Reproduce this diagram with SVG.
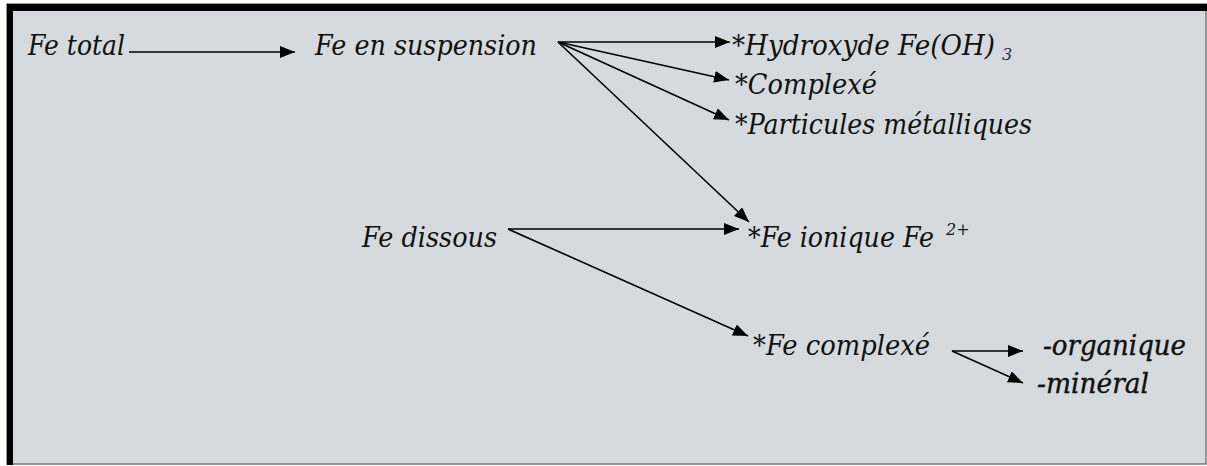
<svg xmlns="http://www.w3.org/2000/svg" width="1207" height="466" viewBox="0 0 1207 466">
<defs>
<style>
text{font-family:'DejaVu Serif',serif;font-style:italic;font-size:27px;fill:#111;}
.sub{font-size:16px;}
.b{stroke:#111;stroke-width:0.4;}
.c line{stroke:#000;stroke-width:1.6;marker-end:url(#ah);}
</style>
<marker id="ah" markerUnits="userSpaceOnUse" markerWidth="16" markerHeight="12" refX="15" refY="6" orient="auto">
<path d="M0,0 L15,6 L0,12 z" fill="#000"/>
</marker>
</defs>
<rect x="0" y="0" width="1207" height="466" fill="#fff"/>
<rect x="7" y="4" width="1199" height="460" fill="#d6dade" stroke="#777" stroke-width="1.5"/>
<rect x="7" y="4" width="1200" height="7" fill="#000"/>
<rect x="7" y="4" width="6" height="461" fill="#000"/>
<g class="c" id="connectors">
<line x1="129" y1="52" x2="295" y2="52"/>
<line x1="558" y1="42" x2="730" y2="42"/>
<line x1="558" y1="42" x2="729" y2="80"/>
<line x1="558" y1="42" x2="729" y2="120"/>
<line x1="558" y1="42" x2="749" y2="222"/>
<line x1="508" y1="229" x2="739" y2="229"/>
<line x1="508" y1="229" x2="748" y2="336"/>
<line x1="952" y1="351" x2="1023" y2="351"/>
<line x1="952" y1="351" x2="1023" y2="383"/>
</g>
<g id="fe-total"><text x="28" y="55" textLength="97" lengthAdjust="spacingAndGlyphs">Fe total</text></g>
<g id="fe-suspension"><text x="315" y="55" textLength="222" lengthAdjust="spacingAndGlyphs">Fe en suspension</text></g>
<g id="hydroxyde"><text x="732" y="55" textLength="263" lengthAdjust="spacingAndGlyphs">*Hydroxyde Fe(OH)</text><text class="sub" x="1002" y="60" style="fill:#1a2a5c">3</text></g>
<g id="complexe"><text x="735" y="94" textLength="142" lengthAdjust="spacingAndGlyphs">*Complexé</text></g>
<g id="particules"><text x="735" y="134" textLength="297" lengthAdjust="spacingAndGlyphs">*Particules métalliques</text></g>
<g id="fe-dissous"><text x="362" y="247" textLength="135" lengthAdjust="spacingAndGlyphs">Fe dissous</text></g>
<g id="fe-ionique"><text x="748" y="247" textLength="186" lengthAdjust="spacingAndGlyphs">*Fe ionique Fe</text><text class="sub" x="946" y="235">2+</text></g>
<g id="fe-complexe"><text x="753" y="355" textLength="177" lengthAdjust="spacingAndGlyphs">*Fe complexé</text></g>
<g id="organique"><text class="b" x="1043" y="355" textLength="143" lengthAdjust="spacingAndGlyphs">-organique</text></g>
<g id="mineral"><text class="b" x="1037" y="393" textLength="112" lengthAdjust="spacingAndGlyphs">-minéral</text></g>
</svg>
